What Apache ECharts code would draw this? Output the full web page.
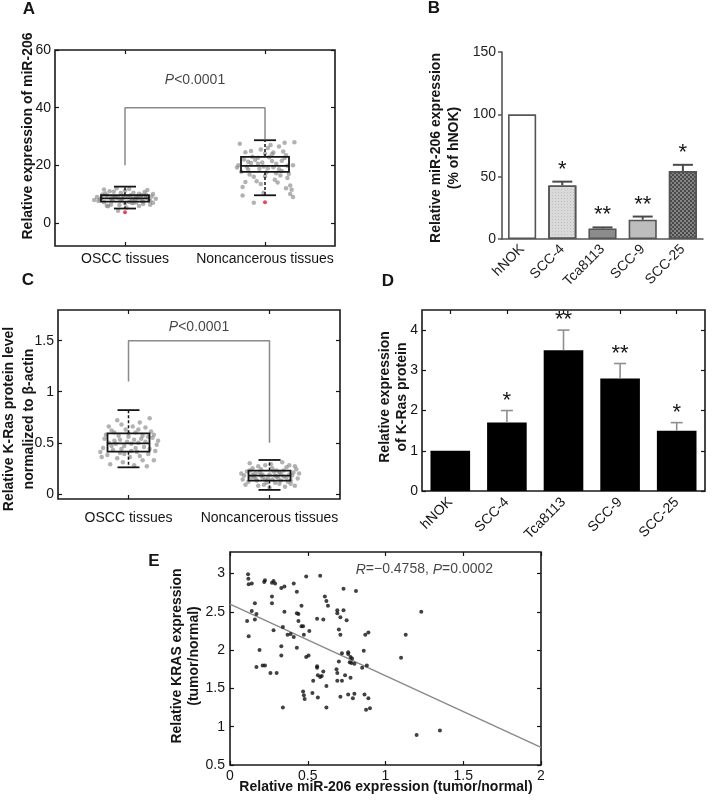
<!DOCTYPE html>
<html><head><meta charset="utf-8">
<script src="https://cdn.jsdelivr.net/npm/echarts@6/dist/echarts.min.js"></script>
<style>html,body{margin:0;padding:0;background:#fff}#c{width:712px;height:803px}</style>
</head><body><div id="c"></div>
<script>
// ---------- data ----------
const boxCategories = ['OSCC tissues', 'Noncancerous tissues'];
const cellLines = ['hNOK', 'SCC-4', 'Tca8113', 'SCC-9', 'SCC-25'];
const sigLabels = ['', '*', '**', '**', '*'];

// Panel A: miR-206 in tissues
const aTickValues = [0, 20, 40, 60];
const aBoxes = [[1, 5.0, 7.4, 8.5, 9.6, 12.6], [2, 9.6, 17.7, 19.8, 22.9, 28.7]];
const aOutliers = [[1, 3.7], [2, 7.2]];
const aOsccPoints = [[0.82,8.1],[0.85,7.2],[0.87,9.5],[0.9,6.4],[0.92,10.8],[0.95,8.7],[0.97,7.8],[1.0,11.2],[1.02,9.1],[1.05,6.9],[1.07,8.3],[1.1,10.1],[1.12,7.5],[1.15,9.8],[1.17,8.0],[1.2,7.0],[0.84,9.9],[0.88,5.8],[0.93,8.9],[0.96,6.2],[0.99,9.4],[1.03,7.3],[1.06,10.5],[1.09,8.6],[1.13,6.6],[1.16,11.4],[1.19,9.2],[0.81,7.6],[0.86,10.2],[0.91,7.9],[0.94,12.0],[0.98,8.4],[1.01,5.4],[1.04,9.6],[1.08,7.1],[1.11,8.8],[1.14,10.7],[1.18,7.7],[0.83,8.6],[0.89,11.0],[0.95,4.2],[1.0,6.8],[1.05,8.2],[1.1,5.9],[1.15,8.9],[1.2,10.0],[0.87,6.0],[0.92,9.0],[0.97,10.4],[1.03,11.8],[1.08,9.3],[1.13,7.4],[1.18,6.3],[0.85,11.6],[0.9,8.5],[1.06,7.0],[1.12,9.7],[0.8,9.0],[1.22,8.4],[0.78,8.0]];
const aNormalPoints = [[1.82,27.5],[1.85,22.0],[1.88,18.5],[1.9,25.0],[1.92,16.0],[1.95,20.5],[1.97,13.5],[2.0,24.0],[2.02,19.0],[2.05,21.5],[2.07,15.0],[2.1,26.5],[2.12,18.0],[2.15,23.5],[2.17,17.0],[2.2,20.0],[1.84,12.5],[1.87,19.5],[1.91,23.0],[1.94,14.5],[1.98,21.0],[2.01,17.5],[2.04,27.0],[2.08,20.5],[2.11,16.5],[2.14,22.5],[2.18,13.0],[1.81,20.0],[1.86,24.5],[1.89,16.8],[1.93,21.8],[1.96,18.8],[1.99,10.5],[2.03,22.8],[2.06,19.3],[2.09,14.0],[2.13,24.8],[2.16,19.8],[2.19,11.5],[1.83,17.8],[1.88,21.2],[1.92,7.0],[1.97,25.5],[2.0,16.2],[2.05,23.8],[2.1,18.6],[2.15,12.0],[2.21,28.0],[2.18,10.0],[1.84,9.5],[1.9,20.8],[1.95,22.6],[2.02,26.0],[2.08,17.2],[2.12,21.6],[2.16,15.6],[1.86,14.2],[1.99,19.6],[2.06,24.4],[2.14,27.8],[2.2,9.0],[1.8,19.2]];
const aBracket = [[1, 20], [1, 40], [2, 40], [2, 29]];
const aPText = [[1.5, 49.5]];

// Panel B: miR-206 in cell lines
const bMeans = [100, 43, 8.5, 15.5, 54.5];
const bErrors = [0, 3, 0.8, 2.5, 5];
const bColors = ['#ffffff', '#d9d9d9', '#8c8c8c', '#bdbdbd', '#858585'];

// Panel C: K-Ras protein in tissues
const cTickValues = [0, 0.5, 1, 1.5];
const cBoxes = [[1, 0.26, 0.413, 0.495, 0.593, 0.82], [2, 0.039, 0.13, 0.179, 0.228, 0.332]];
const cOsccPoints = [[0.82,0.45],[0.85,0.38],[0.88,0.62],[0.9,0.52],[0.92,0.35],[0.95,0.68],[0.97,0.47],[1.0,0.56],[1.02,0.42],[1.05,0.60],[1.07,0.50],[1.1,0.33],[1.12,0.65],[1.15,0.44],[1.17,0.55],[1.2,0.48],[0.84,0.58],[0.87,0.29],[0.91,0.49],[0.94,0.40],[0.98,0.63],[1.01,0.36],[1.04,0.53],[1.08,0.70],[1.11,0.46],[1.14,0.39],[1.18,0.58],[0.81,0.36],[0.86,0.50],[0.89,0.43],[0.93,0.57],[0.96,0.31],[0.99,0.51],[1.03,0.66],[1.06,0.41],[1.09,0.54],[1.13,0.27],[1.16,0.61],[1.19,0.42],[0.83,0.54],[0.88,0.47],[0.92,0.72],[0.97,0.39],[1.0,0.59],[1.05,0.45],[1.1,0.57],[1.15,0.74],[1.21,0.52],[0.8,0.41],[0.9,0.60],[0.95,0.44],[1.02,0.49],[1.08,0.37],[1.12,0.51],[1.18,0.33],[0.86,0.66],[1.04,0.28],[1.14,0.56],[0.94,0.53],[1.07,0.63]];
const cNormalPoints = [[1.82,0.18],[1.85,0.12],[1.88,0.25],[1.9,0.20],[1.92,0.08],[1.95,0.16],[1.97,0.28],[2.0,0.19],[2.02,0.14],[2.05,0.23],[2.07,0.10],[2.1,0.17],[2.12,0.26],[2.15,0.13],[2.17,0.21],[2.2,0.15],[1.84,0.22],[1.87,0.16],[1.91,0.13],[1.94,0.24],[1.98,0.11],[2.01,0.29],[2.04,0.18],[2.08,0.20],[2.11,0.07],[2.14,0.19],[2.18,0.27],[1.81,0.14],[1.86,0.30],[1.89,0.17],[1.93,0.21],[1.96,0.09],[1.99,0.15],[2.03,0.22],[2.06,0.16],[2.09,0.31],[2.13,0.12],[2.16,0.18],[2.19,0.24],[1.83,0.09],[1.88,0.19],[1.92,0.27],[1.97,0.14],[2.0,0.06],[2.05,0.17],[2.1,0.23],[2.15,0.10],[2.21,0.20],[1.8,0.20],[1.9,0.15],[1.95,0.19],[2.02,0.25],[2.08,0.13],[2.12,0.16],[2.18,0.08],[1.86,0.23],[2.04,0.11],[2.14,0.28],[1.94,0.18],[2.07,0.21]];
const cBracket = [[1, 1.1], [1, 1.5], [2, 1.5], [2, 0.5]];
const cPText = [[1.5, 1.63]];

// Panel D: K-Ras protein in cell lines
const dTickValues = [0, 1, 2, 3, 4];
const dMeans = [1.0, 1.7, 3.5, 2.8, 1.5];
const dErrors = [0, 0.3, 0.5, 0.37, 0.2];

// Panel E: correlation
const eXTickValues = [0, 0.5, 1, 1.5, 2];
const eYTickValues = [0.5, 1, 1.5, 2, 2.5, 3];
const ePoints = [[0.116,2.99],[0.118,2.93],[0.12,2.86],[0.14,2.87],[0.22,2.89],[0.225,2.91],[0.27,2.88],[0.28,2.90],[0.29,2.87],[0.33,2.81],[0.35,2.83],[0.41,2.87],[0.43,2.76],[0.49,2.96],[0.58,2.97],[0.61,2.70],[0.73,2.80],[0.81,2.77],[0.62,2.64],[0.63,2.58],[0.69,2.52],[0.73,2.52],[0.16,2.61],[0.27,2.70],[0.27,2.61],[0.14,2.51],[0.17,2.47],[0.11,2.38],[0.16,2.40],[0.12,2.18],[0.28,2.26],[0.35,2.50],[0.34,2.30],[0.37,2.20],[0.39,2.21],[0.41,2.17],[0.43,2.48],[0.44,2.47],[0.44,2.38],[0.46,2.58],[0.46,2.31],[0.47,2.31],[0.475,2.20],[0.51,2.25],[0.43,2.03],[0.56,2.41],[0.60,2.40],[0.69,2.48],[0.71,2.43],[0.75,2.39],[0.70,2.27],[0.71,2.20],[0.87,2.20],[0.89,2.23],[0.19,2.00],[0.17,1.78],[0.21,1.80],[0.225,1.80],[0.26,1.70],[0.30,1.70],[0.33,2.05],[0.33,1.93],[0.34,1.25],[0.49,1.91],[0.505,1.93],[0.56,1.79],[0.56,1.77],[0.565,1.67],[0.58,1.65],[0.59,1.66],[0.60,1.72],[0.535,1.60],[0.47,1.46],[0.475,1.41],[0.48,1.36],[0.53,1.44],[0.565,1.38],[0.62,1.53],[0.62,1.25],[0.685,1.75],[0.69,1.70],[0.69,1.60],[0.72,1.60],[0.71,1.39],[0.72,1.96],[0.70,1.85],[0.74,1.67],[0.76,1.97],[0.76,1.95],[0.775,1.91],[0.785,1.89],[0.77,1.84],[0.78,1.83],[0.80,1.82],[0.775,1.64],[0.76,1.42],[0.80,1.43],[0.79,1.37],[0.85,1.77],[0.86,1.99],[0.865,1.42],[0.88,1.80],[0.89,1.37],[0.875,1.22],[0.90,1.24],[1.10,1.90],[1.13,2.20],[1.23,2.50],[1.20,0.89],[1.35,0.95]];
const eFit = [[0, 2.6], [2, 0.73]];
const eStatText = [[1.25, 3.05]];

// ---------- helpers ----------
const FONT = 'Liberation Sans, Arial, Helvetica, sans-serif';
const INK = '#151515';

function boxRenderer(boxW, capW) {
  return function (params, api) {
    const x = api.value(0);
    const c = v => api.coord([x, v]);
    const lo = c(api.value(1)), q1 = c(api.value(2)), md = c(api.value(3)), q3 = c(api.value(4)), hi = c(api.value(5));
    const cx = lo[0];
    const solid = { stroke: INK, lineWidth: 1.8, fill: null };
    const dash = { stroke: INK, lineWidth: 1.5, lineDash: [3, 2] };
    return {
      type: 'group',
      children: [
        { type: 'line', shape: { x1: cx, y1: q3[1], x2: cx, y2: hi[1] }, style: dash },
        { type: 'line', shape: { x1: cx, y1: q1[1], x2: cx, y2: lo[1] }, style: dash },
        { type: 'line', shape: { x1: cx - capW / 2, y1: hi[1], x2: cx + capW / 2, y2: hi[1] }, style: solid },
        { type: 'line', shape: { x1: cx - capW / 2, y1: lo[1], x2: cx + capW / 2, y2: lo[1] }, style: solid },
        { type: 'rect', shape: { x: cx - boxW / 2, y: q3[1], width: boxW, height: q1[1] - q3[1] }, style: solid },
        { type: 'line', shape: { x1: cx - boxW / 2, y1: md[1], x2: cx + boxW / 2, y2: md[1] }, style: solid }
      ]
    };
  };
}

function errRenderer(color, lw, capW, gap, fsize) {
  return function (params, api) {
    const i = api.value(0), m = api.value(1), e = api.value(2);
    const base = api.coord([i, m]), top = api.coord([i, m + e]);
    const ch = [];
    const st = { stroke: color, lineWidth: lw };
    if (e > 0) {
      ch.push({ type: 'line', shape: { x1: base[0], y1: base[1], x2: top[0], y2: top[1] }, style: st });
      ch.push({ type: 'line', shape: { x1: top[0] - capW / 2, y1: top[1], x2: top[0] + capW / 2, y2: top[1] }, style: st });
    }
    const s = sigLabels[i];
    if (s) {
      ch.push({ type: 'text', x: top[0], y: top[1] - gap,
        style: { text: s, font: fsize + 'px ' + FONT, fill: INK, align: 'center', verticalAlign: 'middle', textAlign: 'center', textVerticalAlign: 'middle' } });
    }
    return { type: 'group', children: ch };
  };
}

const tickLbl = { fontSize: 14, color: INK, fontFamily: FONT };
function catAxis(grid, pos, showLabel, extra) {
  return Object.assign({
    gridIndex: grid, type: 'category', data: boxCategories, position: pos, boundaryGap: true,
    axisLine: { show: false, onZero: false },
    axisTick: { show: true, inside: true, alignWithLabel: true, interval: 0, length: 4, lineStyle: { color: INK, width: 1.2 } },
    axisLabel: Object.assign({ show: showLabel, margin: 6, interval: 0, hideOverlap: false }, tickLbl),
    splitLine: { show: false }
  }, extra || {});
}
function hiddenValAxis(grid, min, max) {
  return { gridIndex: grid, type: 'value', min: min, max: max, show: false, axisLine: { onZero: false }, splitLine: { show: false } };
}
function frameY(grid, pos, min, max, showLabel, ticks, margin) {
  return {
    gridIndex: grid, type: 'value', position: pos, min: min, max: max,
    axisLine: { show: false, onZero: false },
    axisTick: { show: true, inside: true, length: 4, customValues: ticks, lineStyle: { color: INK, width: 1.2 } },
    axisLabel: Object.assign({ show: showLabel, margin: margin || 4, customValues: ticks }, tickLbl),
    splitLine: { show: false }
  };
}
const frameGrid = (l, t, w, h) => ({ left: l, top: t, width: w, height: h, show: true, borderColor: '#1a1a1a', borderWidth: 1.6, backgroundColor: 'transparent', containLabel: false, outerBoundsMode: 'none' });

function txt(x, y, text, font, rot, lh) {
  return { type: 'text', x: x, y: y, rotation: rot || 0, silent: true,
    style: { text: text, font: font, fill: INK, align: 'center', verticalAlign: 'middle', textAlign: 'center', textVerticalAlign: 'middle', lineHeight: lh || 16 } };
}
const BOLD14 = 'bold 14px ' + FONT;
const BOLD16 = 'bold 17px ' + FONT;
const R90 = Math.PI / 2;

const gray = 'rgba(135,135,135,0.8)';
const pRich = { i: { fontStyle: 'italic', fontSize: 14, fontFamily: FONT, color: INK }, n: { fontSize: 14, fontFamily: FONT, color: INK } };

const option = {
  animation: false,
  backgroundColor: '#ffffff',
  textStyle: { fontFamily: FONT },
  grid: [
    frameGrid(55, 50, 280, 196),                      // A
    { left: 502, top: 52, width: 201, height: 187, show: false, containLabel: false, outerBoundsMode: 'none' }, // B
    frameGrid(58, 310, 282, 189),                     // C
    frameGrid(422, 310, 283, 181),                    // D
    frameGrid(230, 552, 311, 213)                     // E
  ],
  xAxis: [
    catAxis(0, 'bottom', true),                        // 0 A
    catAxis(0, 'top', false),                          // 1 A top
    hiddenValAxis(0, 0.5, 2.5),                        // 2 A value
    {                                                  // 3 B
      gridIndex: 1, type: 'category', data: cellLines, boundaryGap: true,
      axisLine: { onZero: false, lineStyle: { color: '#555', width: 1.6 } },
      axisTick: { alignWithLabel: true, interval: 0, length: 5, lineStyle: { color: '#555', width: 1.5 } },
      axisLabel: Object.assign({ rotate: 45, margin: 8, interval: 0, hideOverlap: false }, tickLbl, { color: '#222' }),
      splitLine: { show: false }
    },
    catAxis(2, 'bottom', true, { axisLabel: Object.assign({ margin: 12, interval: 0, hideOverlap: false }, tickLbl) }), // 4 C
    catAxis(2, 'top', false),                          // 5 C top
    hiddenValAxis(2, 0.5, 2.5),                        // 6 C value
    catAxis(3, 'bottom', true, { data: cellLines, axisLabel: Object.assign({ rotate: 45, margin: 9, interval: 0, hideOverlap: false }, tickLbl) }), // 7 D
    catAxis(3, 'top', false, { data: cellLines }),     // 8 D top
    {                                                  // 9 E bottom
      gridIndex: 4, type: 'value', min: 0, max: 2,
      axisLine: { show: false, onZero: false },
      axisTick: { inside: true, length: 4, customValues: eXTickValues, lineStyle: { color: INK, width: 1.2 } },
      axisLabel: Object.assign({ margin: 4, customValues: eXTickValues }, tickLbl),
      splitLine: { show: false }
    },
    {                                                  // 10 E top
      gridIndex: 4, type: 'value', position: 'top', min: 0, max: 2,
      axisLine: { show: false, onZero: false },
      axisTick: { inside: true, length: 4, customValues: eXTickValues, lineStyle: { color: INK, width: 1.2 } },
      axisLabel: { show: false }, splitLine: { show: false }
    }
  ],
  yAxis: [
    frameY(0, 'left', -8, 60, true, aTickValues),      // 0 A
    frameY(0, 'right', -8, 60, false, aTickValues),    // 1 A right
    {                                                  // 2 B
      gridIndex: 1, type: 'value', min: 0, max: 150, interval: 50,
      axisLine: { show: true, onZero: false, lineStyle: { color: '#555', width: 1.6 } },
      axisTick: { show: true, length: 4, lineStyle: { color: '#555', width: 1.5 } },
      axisLabel: Object.assign({ margin: 6 }, tickLbl, { color: '#222' }),
      splitLine: { show: false }
    },
    frameY(2, 'left', -0.05, 1.8, true, cTickValues),  // 3 C
    frameY(2, 'right', -0.05, 1.8, false, cTickValues),// 4 C right
    frameY(3, 'left', 0, 4.5, true, dTickValues),      // 5 D
    frameY(3, 'right', 0, 4.5, false, dTickValues),    // 6 D right
    frameY(4, 'left', 0.5, 3.28, true, eYTickValues, 5),  // 7 E
    frameY(4, 'right', 0.5, 3.28, false, eYTickValues)    // 8 E right
  ],
  series: [
    // ---- A ----
    { type: 'scatter', xAxisIndex: 2, yAxisIndex: 0, data: aOsccPoints, symbolSize: 4.5, itemStyle: { color: gray }, silent: true, z: 2 },
    { type: 'scatter', xAxisIndex: 2, yAxisIndex: 0, data: aNormalPoints, symbolSize: 4.5, itemStyle: { color: gray }, silent: true, z: 2 },
    { type: 'custom', xAxisIndex: 2, yAxisIndex: 0, data: aBoxes, renderItem: boxRenderer(48, 22), encode: { x: 0, y: [1, 2, 3, 4, 5] }, z: 3, silent: true },
    { type: 'scatter', xAxisIndex: 2, yAxisIndex: 0, data: aOutliers, symbolSize: 4, itemStyle: { color: '#e8182c' }, silent: true, z: 4 },
    { type: 'line', xAxisIndex: 2, yAxisIndex: 0, data: aBracket, symbol: 'none', lineStyle: { color: '#8a8a8a', width: 1.5 }, silent: true, z: 3 },
    { type: 'scatter', xAxisIndex: 2, yAxisIndex: 0, data: aPText, symbolSize: 0, silent: true,
      label: { show: true, position: 'inside', formatter: '{i|P}{n|<0.0001}', rich: pRich } },
    // ---- B ----
    { type: 'bar', xAxisIndex: 3, yAxisIndex: 2, barWidth: '70%',
      data: bMeans.map((v, i) => ({ value: v, itemStyle: {
        color: bColors[i], borderColor: '#555', borderWidth: 1.6,
        decal: i === 4 ? { symbol: 'rect', symbolSize: 1, color: '#4a4a4a', dashArrayX: [[2, 2], [0, 2, 2, 0]], dashArrayY: [2, 0], rotation: 0 } :
               (i === 1 ? { symbol: 'rect', symbolSize: 1, color: 'rgba(150,150,150,0.35)', dashArrayX: [1, 2], dashArrayY: [1, 2], rotation: 0 } : null)
      } })), silent: true, z: 2 },
    { type: 'custom', xAxisIndex: 3, yAxisIndex: 2, data: bMeans.map((v, i) => [i, v, bErrors[i]]),
      renderItem: errRenderer('#4a4a4a', 2, 20, 12, 22), encode: { x: 0, y: 1 }, z: 3, silent: true },
    // ---- C ----
    { type: 'scatter', xAxisIndex: 6, yAxisIndex: 3, data: cOsccPoints, symbolSize: 4.5, itemStyle: { color: gray }, silent: true, z: 2 },
    { type: 'scatter', xAxisIndex: 6, yAxisIndex: 3, data: cNormalPoints, symbolSize: 4.5, itemStyle: { color: gray }, silent: true, z: 2 },
    { type: 'custom', xAxisIndex: 6, yAxisIndex: 3, data: cBoxes, renderItem: boxRenderer(42, 22), encode: { x: 0, y: [1, 2, 3, 4, 5] }, z: 3, silent: true },
    { type: 'line', xAxisIndex: 6, yAxisIndex: 3, data: cBracket, symbol: 'none', lineStyle: { color: '#8a8a8a', width: 1.5 }, silent: true, z: 3 },
    { type: 'scatter', xAxisIndex: 6, yAxisIndex: 3, data: cPText, symbolSize: 0, silent: true,
      label: { show: true, position: 'inside', formatter: '{i|P}{n|<0.0001}', rich: pRich } },
    // ---- D ----
    { type: 'bar', xAxisIndex: 7, yAxisIndex: 5, barWidth: '70%', data: dMeans, itemStyle: { color: '#000' }, silent: true, z: 2 },
    { type: 'custom', xAxisIndex: 7, yAxisIndex: 5, data: dMeans.map((v, i) => [i, v, dErrors[i]]),
      renderItem: errRenderer('#8f8f8f', 1.6, 12, 10, 22), encode: { x: 0, y: 1 }, z: 3, silent: true },
    // ---- E ----
    { type: 'scatter', xAxisIndex: 9, yAxisIndex: 7, data: ePoints, symbolSize: 4, itemStyle: { color: '#111' }, silent: true, z: 3 },
    { type: 'line', xAxisIndex: 9, yAxisIndex: 7, data: eFit, symbol: 'none', lineStyle: { color: '#8a8a8a', width: 1.5 }, silent: true, z: 2 },
    { type: 'scatter', xAxisIndex: 9, yAxisIndex: 7, data: eStatText, symbolSize: 0, silent: true,
      label: { show: true, position: 'inside', formatter: '{i|R}{n|=\u22120.4758, }{i|P}{n|=0.0002}', rich: pRich } }
  ],
  graphic: [
    txt(29, 9, 'A', BOLD16), txt(434, 8, 'B', BOLD16), txt(28, 280, 'C', BOLD16), txt(388, 281, 'D', BOLD16), txt(154, 561, 'E', BOLD16),
    txt(28, 136, 'Relative expression of miR-206', BOLD14, R90),
    txt(445, 148, 'Relative miR-206 expression\n(% of hNOK)', BOLD14, R90, 18),
    txt(19, 419, 'Relative K-Ras protein level\nnormalized to \u03b2-actin', BOLD14, R90, 20),
    txt(394, 397, 'Relative expression\nof K-Ras protein', BOLD14, R90, 17),
    txt(186, 656, 'Relative KRAS expression\n(tumor/normal)', BOLD14, R90, 17),
    txt(386, 787, 'Relative miR-206 expression (tumor/normal)', BOLD14)
  ]
};

const chart = echarts.init(document.getElementById('c'), null, { renderer: 'canvas', width: 712, height: 803 });
chart.setOption(option);
</script>
</body></html>
